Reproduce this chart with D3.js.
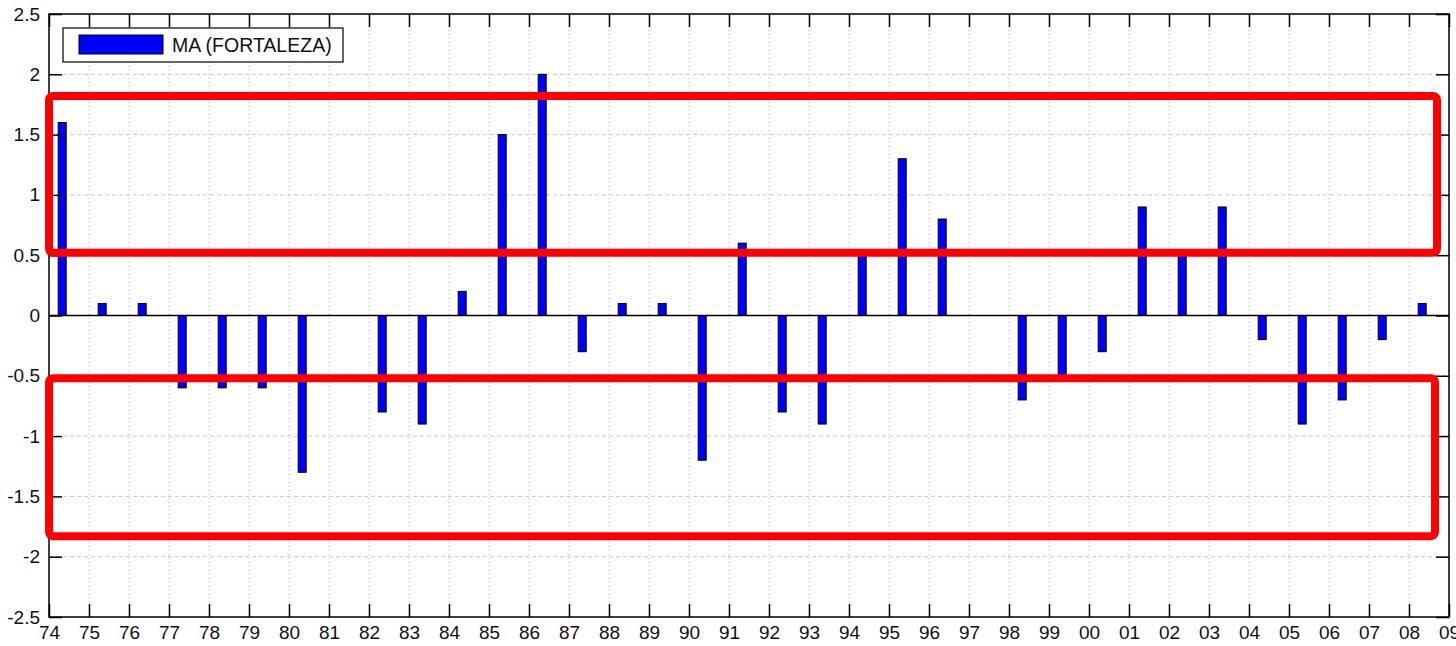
<!DOCTYPE html>
<html>
<head>
<meta charset="utf-8">
<script src="https://cdn.jsdelivr.net/npm/d3@7"></script>
<style>
  html, body { margin: 0; padding: 0; background: #fff; }
  svg { display: block; font-family: "Liberation Sans", Arial, sans-serif; }
</style>
</head>
<body>
<svg id="chart" width="1456" height="646"></svg>
<script>
// Annual anomaly series for Fortaleza (MA), 1974–2008
const years = [74, 75, 76, 77, 78, 79, 80, 81, 82, 83, 84, 85, 86, 87, 88, 89, 90, 91,
               92, 93, 94, 95, 96, 97, 98, 99, 100, 101, 102, 103, 104, 105, 106, 107, 108];
const values = [1.6, 0.1, 0.1, -0.6, -0.6, -0.6, -1.3, 0, -0.8, -0.9, 0.2, 1.5, 2.0, -0.3, 0.1, 0.1, -1.2, 0.6,
                -0.8, -0.9, 0.5, 1.3, 0.8, 0, -0.7, -0.5, -0.3, 0.9, 0.5, 0.9, -0.2, -0.9, -0.7, -0.2, 0.1];
const seriesName = "MA (FORTALEZA)";

// Axis ticks
const xTickValues = d3.range(74, 110);
const xTickLabels = ["74","75","76","77","78","79","80","81","82","83","84","85","86","87","88","89","90","91",
                     "92","93","94","95","96","97","98","99","00","01","02","03","04","05","06","07","08","09"];
const yTickValues = [-2.5, -2, -1.5, -1, -0.5, 0, 0.5, 1, 1.5, 2, 2.5];

// Highlight bands (data units): [x0, x1, yTop, yBottom]
const bandUpper = [74.0, 108.7, 1.82, 0.52];
const bandLower = [74.0, 108.65, -0.52, -1.83];

const svg = d3.select("#chart");
const L = 49, R = 1449, T = 14, B = 617;

const x = d3.scaleLinear().domain([74, 109]).range([L, R]);
const y = d3.scaleLinear().domain([-2.5, 2.5]).range([B, T]);

const FONT = "Liberation Sans, Arial, sans-serif";

// Grid
const grid = svg.append("g");
grid.selectAll("line.gx").data(xTickValues.slice(1)).join("line")
  .attr("x1", d => x(d)).attr("x2", d => x(d))
  .attr("y1", T).attr("y2", B)
  .attr("stroke", "#b8b8b8").attr("stroke-width", 1)
  .attr("stroke-dasharray", "1,3");
grid.selectAll("line.gy").data(yTickValues.slice(1, -1)).join("line")
  .attr("x1", L).attr("x2", R)
  .attr("y1", d => y(d)).attr("y2", d => y(d))
  .attr("stroke", "#c8c8c8").attr("stroke-width", 1)
  .attr("stroke-dasharray", "4,3");

// Bars (centred a third of the way into each year)
const offset = 0.33, bw = 0.2;
svg.append("g").selectAll("rect").data(years.map((yr, i) => ({yr, v: values[i]})).filter(d => d.v !== 0))
  .join("rect")
  .attr("x", d => x(d.yr + offset - bw / 2))
  .attr("width", x(74 + bw) - x(74))
  .attr("y", d => y(Math.max(0, d.v)))
  .attr("height", d => Math.abs(y(d.v) - y(0)))
  .attr("fill", "#0000ff")
  .attr("stroke", "#000").attr("stroke-width", 1);

// Baseline
svg.append("line")
  .attr("x1", L).attr("x2", R).attr("y1", y(0)).attr("y2", y(0))
  .attr("stroke", "#000").attr("stroke-width", 1.5);

// Axes with inward ticks on all four sides
const tickLen = 13;
const fmtX = d => xTickLabels[d - 74];
const fmtY = d => String(d);   // plain hyphen for negatives
svg.append("g").attr("transform", `translate(0,${B})`)
  .call(d3.axisBottom(x).tickValues(xTickValues).tickFormat(fmtX).tickSizeInner(-tickLen).tickSizeOuter(0).tickPadding(9))
  .call(g => g.select(".domain").remove())
  .call(g => g.attr("font-size", 19).attr("font-family", FONT))
  .call(g => g.selectAll("text").attr("fill", "#111"))
  .call(g => g.selectAll("line").attr("stroke", "#000").attr("stroke-width", 1.5));
svg.append("g").attr("transform", `translate(0,${T})`)
  .call(d3.axisTop(x).tickValues(xTickValues).tickFormat("").tickSizeInner(-tickLen).tickSizeOuter(0))
  .call(g => g.select(".domain").remove())
  .call(g => g.selectAll("line").attr("stroke", "#000").attr("stroke-width", 1.5));
svg.append("g").attr("transform", `translate(${L},0)`)
  .call(d3.axisLeft(y).tickValues(yTickValues).tickFormat(fmtY).tickSizeInner(-tickLen).tickSizeOuter(0).tickPadding(9))
  .call(g => g.select(".domain").remove())
  .call(g => g.attr("font-size", 19).attr("font-family", FONT))
  .call(g => g.selectAll("text").attr("fill", "#111"))
  .call(g => g.selectAll("line").attr("stroke", "#000").attr("stroke-width", 1.5));
svg.append("g").attr("transform", `translate(${R},0)`)
  .call(d3.axisRight(y).tickValues(yTickValues).tickFormat("").tickSizeInner(-tickLen).tickSizeOuter(0))
  .call(g => g.select(".domain").remove())
  .call(g => g.selectAll("line").attr("stroke", "#000").attr("stroke-width", 1.5));

// Frame
svg.append("rect").attr("x", L).attr("y", T).attr("width", R - L).attr("height", B - T)
  .attr("fill", "none").attr("stroke", "#000").attr("stroke-width", 1.5);

// Legend
const lg = svg.append("g");
lg.append("rect").attr("x", 63).attr("y", 28).attr("width", 280).attr("height", 34)
  .attr("fill", "#fff").attr("stroke", "#000").attr("stroke-width", 1.2);
lg.append("rect").attr("x", 79).attr("y", 35).attr("width", 84).attr("height", 19)
  .attr("fill", "#0000ff").attr("stroke", "#000").attr("stroke-width", 1);
lg.append("text").attr("x", 172).attr("y", 52).attr("font-size", 19.5).attr("font-family", FONT).attr("fill", "#111")
  .text(seriesName);

// Highlight bands
[bandUpper, bandLower].forEach(b => {
  svg.append("rect")
    .attr("x", x(b[0])).attr("y", y(b[2]))
    .attr("width", x(b[1]) - x(b[0])).attr("height", y(b[3]) - y(b[2]))
    .attr("rx", 4).attr("ry", 4)
    .attr("fill", "none").attr("stroke", "#ff0000").attr("stroke-width", 8);
});
</script>
</body>
</html>
